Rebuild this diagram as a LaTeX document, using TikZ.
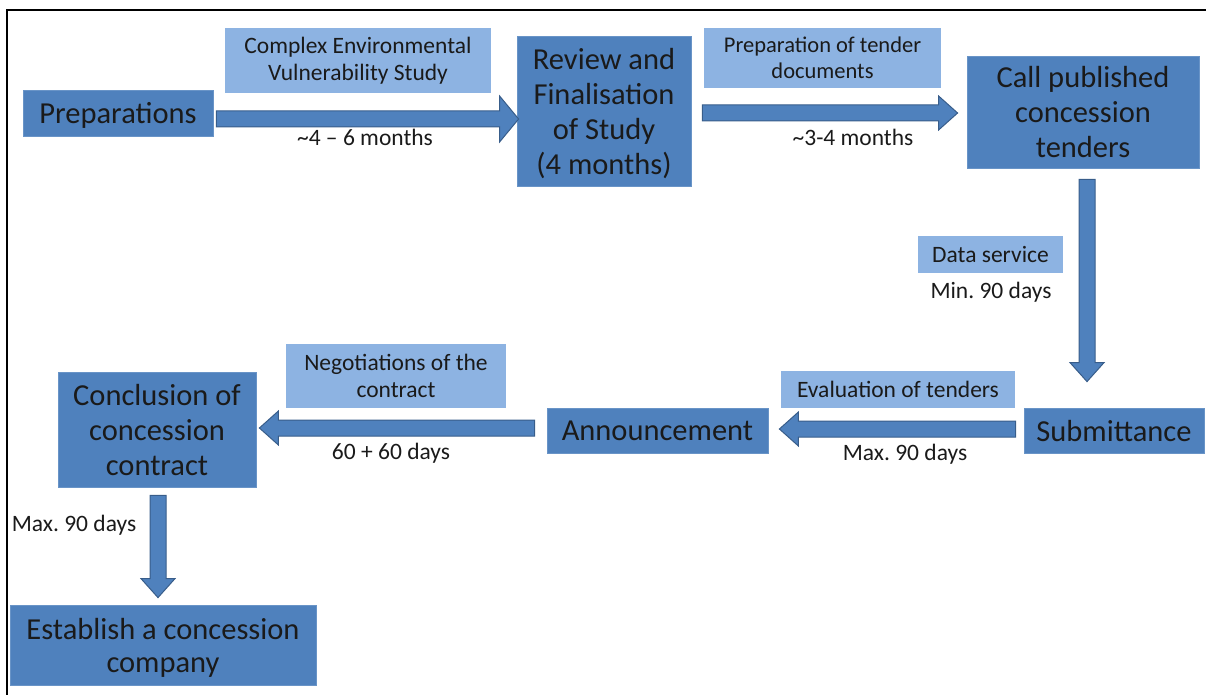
\documentclass[tikz,border=0pt]{standalone}
\usepackage{fontspec}
\setmainfont{Carlito}
\usetikzlibrary{calc}

\definecolor{stageblue}{HTML}{4F81BD}
\definecolor{taskblue}{HTML}{8DB3E2}
\definecolor{arrowedge}{HTML}{385D8A}
\definecolor{ink}{HTML}{1A1A1A}

% fat block arrow between two points: [head half width]{from}{to}
\newcommand\blockarrow[3][17]{%
  \coordinate (ba-s) at (#2);
  \coordinate (ba-e) at (#3);
  \coordinate (ba-h) at ($(ba-e)!19pt!(ba-s)$);
  \path[fatarrow] ($(ba-s)!8pt!90:(ba-e)$) -- ($(ba-h)!8pt!90:(ba-e)$)
     -- ($(ba-h)!#1pt!90:(ba-e)$) -- (ba-e) -- ($(ba-h)!#1pt!-90:(ba-e)$)
     -- ($(ba-h)!8pt!-90:(ba-e)$) -- ($(ba-s)!8pt!-90:(ba-e)$) -- cycle;
}

\begin{document}
\frenchspacing
\begin{tikzpicture}[x=1pt, y=-1pt,
    stage/.style={fill=stageblue, draw=stageblue!85!white, line width=0.8, text=ink,
                  align=center, inner sep=0, text depth=0pt,
                  font=\fontsize{30.5}{35}\selectfont},
    task/.style={fill=taskblue, text=ink, align=center, inner sep=0,
                 font=\fontsize{23.5}{27}\selectfont},
    dur/.style={text=ink, inner sep=0, font=\fontsize{23.5}{27}\selectfont},
    fatarrow/.style={fill=stageblue, draw=arrowedge, line width=1, line join=miter}]
    \useasboundingbox (0,0) rectangle (1206,695);
    \draw[line width=2] (7,695) -- (7,10) -- (1206,10);

    % stages
    \node[stage, minimum width=190, minimum height=46]  (prep) at (118,113)   {Preparations};
    \node[stage, minimum width=174, minimum height=150] (rev)  at (604,111)   {Review and\\Finalisation\\of Study\\(4 months)};
    \node[stage, minimum width=232, minimum height=112] (call) at (1083,112)  {Call published\\concession\\tenders};
    \node[stage, minimum width=180, minimum height=45]  (sub)  at (1114,430.5) {Submittance};
    \node[stage, minimum width=221, minimum height=45]  (ann)  at (657.5,430.5) {Announcement};
    \node[stage, minimum width=198, minimum height=115] (conc) at (157,429.5) {Conclusion of\\concession\\contract};
    \node[stage, minimum width=306, minimum height=80, font=\fontsize{30.5}{33}\selectfont] (est) at (163,645) {Establish a concession\\company};

    % tasks
    \node[task, minimum width=266, minimum height=65] (cevs)  at (358,60.5)  {Complex Environmental\\Vulnerability Study};
    \node[task, minimum width=237, minimum height=60, font=\fontsize{22.5}{26}\selectfont] (tdoc) at (822.5,58) {Preparation of tender\\documents};
    \node[task, minimum width=145, minimum height=37] (data)  at (990.5,254.5) {Data service};
    \node[task, minimum width=234, minimum height=37] (eval)  at (898,389.5) {Evaluation of tenders};
    \node[task, minimum width=220, minimum height=64] (negot) at (396,376)   {Negotiations of the\\contract};

    % durations
    \node[dur] (d1) at (365,137) {\textasciitilde 4 – 6 months};
    \node[dur] (d2) at (853,137) {\textasciitilde 3-4 months};
    \node[dur] (d3) at (991,292) {Min. 90 days};
    \node[dur] (d4) at (905,454) {Max. 90 days};
    \node[dur] (d5) at (391,453) {60 + 60 days};
    \node[dur] (d6) at (74,525)  {Max. 90 days};

    % arrows
    \blockarrow[23]{[shift={(3,6)}]prep.east}{[shift={(2,8)}]rev.west}
    \blockarrow{[shift={(11,2)}]rev.east}{[shift={(-9,1)}]call.west}
    \blockarrow{[shift={(4,11)}]call.south}{[shift={(-27,-26)}]sub.north}
    \blockarrow{[shift={(-8,-1.5)}]sub.west}{[shift={(11,-1.5)}]ann.east}
    \blockarrow{[shift={(-12,-2.5)}]ann.west}{[shift={(3,-1.5)}]conc.east}
    \blockarrow{[shift={(1,8)}]conc.south}{[shift={(-5,-7)}]est.north}
\end{tikzpicture}
\end{document}
